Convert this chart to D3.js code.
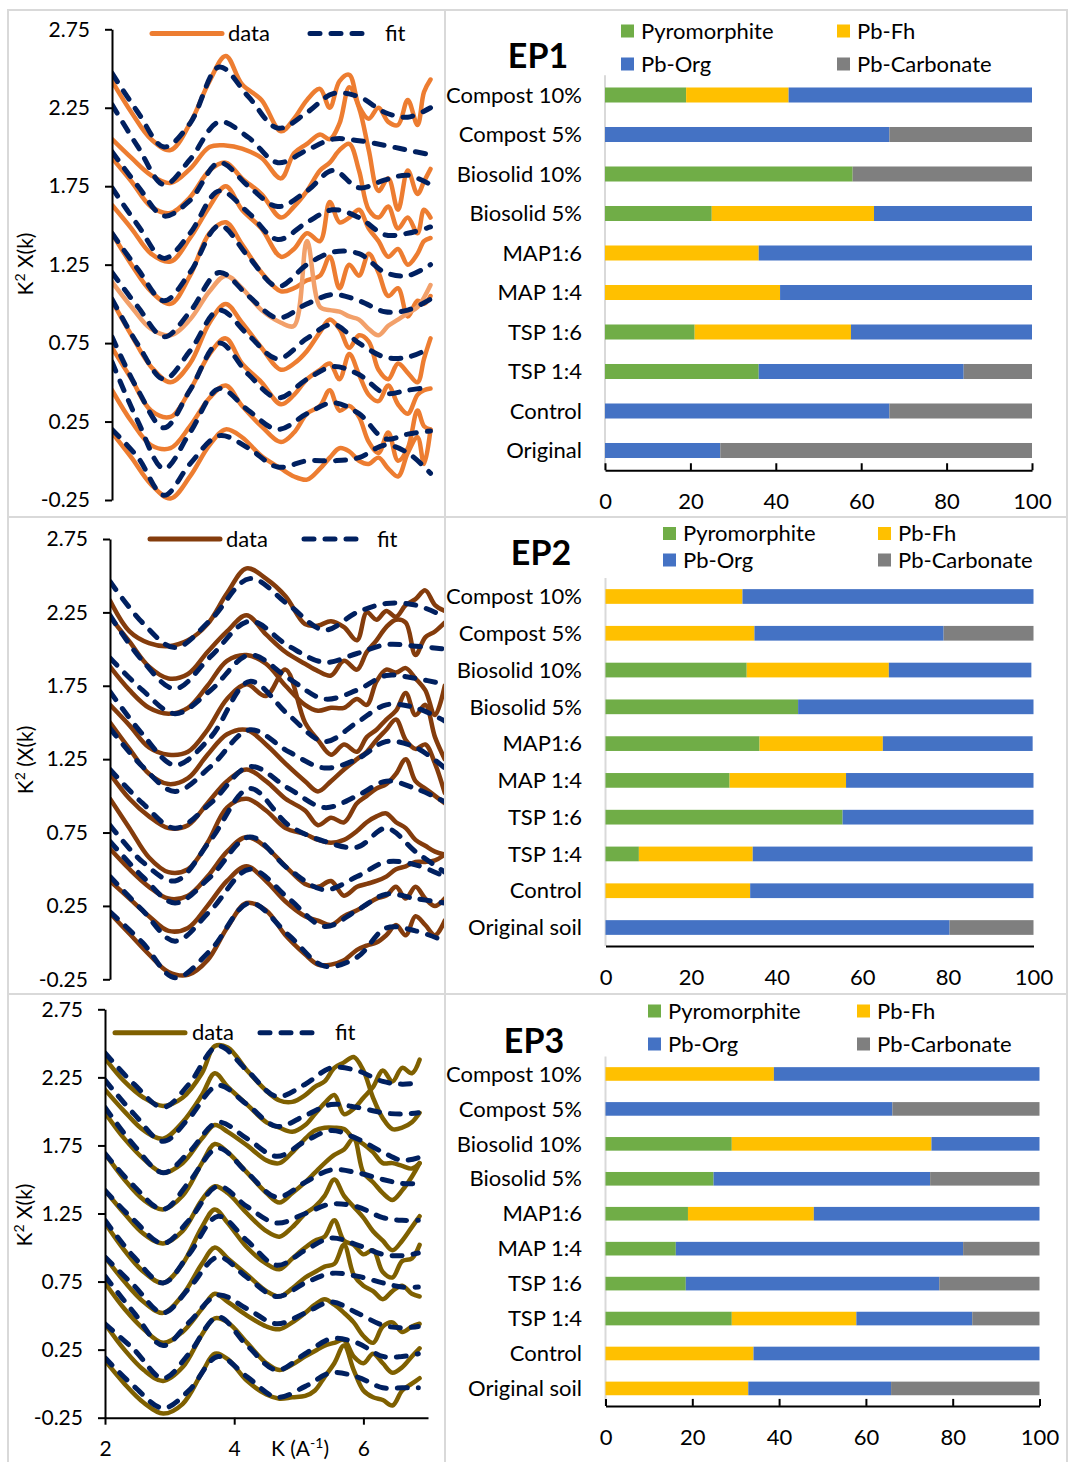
<!DOCTYPE html>
<html>
<head>
<meta charset="utf-8">
<script src="https://d3js.org/d3.v7.min.js"></script>
<style>
  body { margin: 0; background: #fff; }
  text { font-family: Lato, "Open Sans", sans-serif; fill: #000; }
</style>
</head>
<body>
<svg id="fig" width="1071" height="1462"></svg>
<script>
// ---------- speciation (linear combination fit) results, % ----------
const phases = ["Pyromorphite", "Pb-Fh", "Pb-Org", "Pb-Carbonate"];
const phaseColors = ["#70AD47", "#FFC000", "#4472C4", "#7F7F7F"];

const categoriesEP1 = ["Compost 10%", "Compost 5%", "Biosolid 10%", "Biosolid 5%", "MAP1:6", "MAP 1:4", "TSP 1:6", "TSP 1:4", "Control", "Original"];
const categoriesEP23 = ["Compost 10%", "Compost 5%", "Biosolid 10%", "Biosolid 5%", "MAP1:6", "MAP 1:4", "TSP 1:6", "TSP 1:4", "Control", "Original soil"];

const ep1Pyromorphite = [19, 0, 58, 25, 0, 0, 21, 36, 0, 0];
const ep1PbFh         = [24, 0, 0, 38, 36, 41, 36.6, 0, 0, 0];
const ep1PbOrg        = [57, 66.6, 0, 37, 64, 59, 42.4, 48, 66.6, 27];
const ep1PbCarbonate  = [0, 33.4, 42, 0, 0, 0, 0, 16, 33.4, 73];

const ep2Pyromorphite = [0, 0, 33, 45, 36, 29, 55.4, 7.8, 0, 0];
const ep2PbFh         = [32, 34.8, 33.2, 0, 28.8, 27.2, 0, 26.6, 33.8, 0];
const ep2PbOrg        = [68, 44.2, 33.3, 55, 35, 43.8, 44.6, 65.4, 66.2, 80.4];
const ep2PbCarbonate  = [0, 21, 0, 0, 0, 0, 0, 0, 0, 19.6];

const ep3Pyromorphite = [0, 0, 29.1, 24.9, 19, 16.2, 18.5, 29.1, 0, 0];
const ep3PbFh         = [38.8, 0, 46, 0, 29, 0, 0, 28.7, 34.1, 32.9];
const ep3PbOrg        = [61.2, 66.1, 24.9, 49.9, 52, 66.2, 58.4, 26.7, 65.9, 32.9];
const ep3PbCarbonate  = [0, 33.9, 0, 25.2, 0, 17.6, 23.1, 15.5, 0, 34.2];

const barTicks = [0, 20, 40, 60, 80, 100];

// ---------- k2-weighted EXAFS spectra (offset stacks) ----------
const spectraTicks = [-0.25, 0.25, 0.75, 1.25, 1.75, 2.25, 2.75];

const ep1FitK  = [2.0, 2.4, 2.8, 3.2, 3.65, 4.1, 4.55, 5.0, 5.4, 5.8, 6.2, 6.55, 6.9];
const ep1DataK = [2.0, 2.3, 2.6, 2.9, 3.2, 3.5, 3.75, 4.0, 4.3, 4.6, 4.8, 5.0, 5.2, 5.35, 5.5, 5.65, 5.8, 5.95, 6.1, 6.25, 6.4, 6.55, 6.7, 6.8, 6.9];
const ep1Fits = [
  [2.47, 2.22, 2.00, 2.15, 2.51, 2.32, 2.12, 2.22, 2.34, 2.32, 2.22, 2.19, 2.25],
  [2.27, 2.00, 1.76, 1.92, 2.16, 2.06, 1.90, 1.98, 2.05, 2.04, 2.01, 1.98, 1.95],
  [1.97, 1.75, 1.56, 1.66, 1.90, 1.75, 1.62, 1.72, 1.85, 1.74, 1.79, 1.82, 1.76],
  [1.74, 1.50, 1.29, 1.45, 1.72, 1.58, 1.41, 1.52, 1.60, 1.55, 1.44, 1.45, 1.49],
  [1.45, 1.22, 1.02, 1.20, 1.50, 1.30, 1.11, 1.25, 1.33, 1.32, 1.20, 1.18, 1.25],
  [1.20, 0.98, 0.79, 0.95, 1.20, 1.05, 0.91, 1.00, 1.06, 1.02, 0.95, 0.96, 1.03],
  [1.03, 0.74, 0.52, 0.70, 0.96, 0.80, 0.65, 0.78, 0.87, 0.75, 0.66, 0.66, 0.72],
  [0.79, 0.45, 0.21, 0.45, 0.75, 0.55, 0.40, 0.52, 0.60, 0.55, 0.43, 0.45, 0.47],
  [0.63, 0.25, -0.05, 0.18, 0.46, 0.32, 0.20, 0.30, 0.37, 0.30, 0.14, 0.17, 0.19],
  [0.20, 0.02, -0.22, -0.02, 0.16, 0.08, -0.04, 0.00, 0.00, 0.02, 0.10, 0.05, -0.08]
];
const ep1Data = [
  [2.42, 2.22, 2.05, 1.98, 2.15, 2.42, 2.58, 2.40, 2.30, 2.10, 2.18, 2.30, 2.37, 2.25, 2.42, 2.46, 2.26, 2.18, 2.25, 2.16, 2.14, 2.30, 2.14, 2.35, 2.43],
  [2.05, 1.93, 1.82, 1.77, 1.86, 2.00, 2.01, 1.99, 1.93, 1.80, 1.96, 2.02, 2.08, 2.05, 2.15, 2.38, 2.25, 1.98, 1.72, 1.80, 1.60, 1.85, 1.70, 1.78, 1.86],
  [1.93, 1.78, 1.62, 1.58, 1.68, 1.85, 1.90, 1.80, 1.70, 1.55, 1.62, 1.72, 1.85, 1.90, 1.98, 2.02, 1.85, 1.60, 1.55, 1.62, 1.48, 1.55, 1.45, 1.60, 1.55],
  [1.63, 1.48, 1.32, 1.27, 1.42, 1.62, 1.75, 1.60, 1.48, 1.30, 1.35, 1.45, 1.40, 1.65, 1.52, 1.55, 1.60, 1.48, 1.40, 1.30, 1.35, 1.25, 1.32, 1.40, 1.42],
  [1.45, 1.25, 1.08, 1.00, 1.18, 1.45, 1.52, 1.38, 1.20, 1.08, 1.10, 1.15, 1.18, 1.30, 1.10, 1.25, 1.18, 1.32, 1.20, 1.05, 1.10, 0.92, 1.02, 1.00, 1.05],
  [1.14, 0.98, 0.84, 0.80, 0.90, 1.08, 1.18, 1.10, 0.96, 0.88, 0.86, 1.40, 0.98, 0.96, 0.95, 0.92, 0.90, 0.84, 0.80, 0.86, 0.90, 0.94, 0.98, 1.04, 1.12],
  [1.02, 0.80, 0.60, 0.50, 0.62, 0.88, 1.00, 0.88, 0.72, 0.58, 0.62, 0.70, 0.82, 0.90, 0.84, 0.72, 0.80, 0.76, 0.58, 0.52, 0.62, 0.56, 0.50, 0.65, 0.78],
  [0.72, 0.52, 0.32, 0.28, 0.45, 0.68, 0.78, 0.62, 0.50, 0.36, 0.42, 0.52, 0.58, 0.62, 0.52, 0.68, 0.55, 0.42, 0.38, 0.48, 0.36, 0.30, 0.42, 0.45, 0.46],
  [0.45, 0.25, 0.10, 0.08, 0.22, 0.40, 0.48, 0.35, 0.22, 0.12, 0.18, 0.30, 0.35, 0.45, 0.32, 0.35, 0.28, 0.12, 0.05, 0.18, 0.00, 0.08, 0.32, 0.22, 0.20],
  [0.18, 0.02, -0.15, -0.24, -0.10, 0.10, 0.20, 0.15, 0.03, -0.05, -0.10, -0.12, -0.05, 0.02, 0.08, 0.06, 0.00, -0.02, 0.02, -0.05, -0.10, 0.05, 0.15, -0.02, 0.20]
];

const ep2FitK  = [2.0, 2.5, 3.0, 3.55, 4.15, 4.75, 5.3, 5.8, 6.25, 6.7, 7.15];
const ep2DataK = [2.0, 2.3, 2.6, 2.9, 3.2, 3.5, 3.8, 4.1, 4.4, 4.7, 5.0, 5.2, 5.4, 5.6, 5.8, 5.95, 6.1, 6.25, 6.4, 6.55, 6.7, 6.85, 7.0, 7.15];
const ep2Fits = [
  [2.46, 2.18, 2.01, 2.20, 2.48, 2.30, 2.13, 2.25, 2.31, 2.30, 2.22],
  [2.23, 1.92, 1.73, 1.95, 2.19, 2.02, 1.91, 1.97, 2.03, 2.02, 2.00],
  [1.94, 1.72, 1.56, 1.72, 1.96, 1.80, 1.66, 1.72, 1.82, 1.80, 1.76],
  [1.71, 1.42, 1.21, 1.40, 1.78, 1.55, 1.37, 1.50, 1.62, 1.60, 1.51],
  [1.46, 1.20, 1.03, 1.20, 1.45, 1.30, 1.19, 1.25, 1.37, 1.33, 1.19],
  [1.18, 0.95, 0.78, 0.95, 1.20, 1.05, 0.92, 1.00, 1.10, 1.05, 0.96],
  [0.80, 0.55, 0.42, 0.70, 1.05, 0.80, 0.69, 0.65, 0.78, 0.62, 0.48],
  [0.69, 0.45, 0.27, 0.45, 0.72, 0.50, 0.36, 0.45, 0.55, 0.53, 0.45],
  [0.45, 0.22, 0.01, 0.22, 0.50, 0.30, 0.11, 0.22, 0.33, 0.30, 0.27],
  [0.21, 0.00, -0.24, -0.05, 0.27, 0.05, -0.16, -0.10, 0.10, 0.08, 0.01]
];
const ep2Data = [
  [2.33, 2.12, 2.04, 2.02, 2.06, 2.17, 2.38, 2.55, 2.48, 2.36, 2.17, 2.16, 2.19, 2.15, 2.06, 2.25, 2.20, 2.26, 2.22, 2.30, 2.34, 2.40, 2.30, 2.26],
  [2.22, 2.05, 1.88, 1.80, 1.83, 1.98, 2.12, 2.23, 2.10, 1.98, 1.90, 1.85, 1.82, 1.92, 1.86, 1.98, 2.06, 2.15, 2.20, 2.18, 1.96, 2.08, 2.12, 2.18],
  [1.88, 1.72, 1.60, 1.56, 1.60, 1.75, 1.92, 1.96, 1.90, 1.75, 1.62, 1.58, 1.60, 1.60, 1.66, 1.62, 1.78, 1.86, 1.84, 1.87, 1.80, 1.72, 1.55, 1.75],
  [1.62, 1.48, 1.33, 1.28, 1.30, 1.45, 1.66, 1.76, 1.68, 1.86, 1.50, 1.38, 1.28, 1.35, 1.30, 1.40, 1.45, 1.52, 1.58, 1.70, 1.55, 1.62, 1.40, 1.25],
  [1.50, 1.32, 1.15, 1.08, 1.12, 1.28, 1.42, 1.45, 1.35, 1.22, 1.10, 1.03, 1.10, 1.18, 1.25, 1.30, 1.38, 1.45, 1.52, 1.38, 1.32, 1.35, 1.22, 1.02],
  [1.15, 0.98, 0.86, 0.78, 0.80, 0.95, 1.10, 1.18, 1.10, 0.98, 0.90, 0.80, 0.85, 0.82, 0.95, 1.00, 1.05, 1.08, 1.15, 1.25, 1.10, 1.05, 1.00, 0.95],
  [0.98, 0.78, 0.58, 0.48, 0.50, 0.68, 0.92, 0.98, 0.90, 0.78, 0.74, 0.70, 0.68, 0.70, 0.76, 0.82, 0.86, 0.88, 0.82, 0.78, 0.70, 0.66, 0.62, 0.60],
  [0.64, 0.50, 0.38, 0.30, 0.32, 0.45, 0.62, 0.72, 0.65, 0.52, 0.40, 0.38, 0.42, 0.32, 0.38, 0.40, 0.42, 0.45, 0.50, 0.52, 0.55, 0.55, 0.56, 0.60],
  [0.42, 0.30, 0.18, 0.08, 0.10, 0.25, 0.42, 0.52, 0.42, 0.28, 0.18, 0.15, 0.12, 0.18, 0.22, 0.26, 0.30, 0.32, 0.38, 0.30, 0.38, 0.30, 0.25, 0.30],
  [0.20, 0.06, -0.08, -0.20, -0.22, -0.12, 0.10, 0.27, 0.22, 0.05, -0.08, -0.15, -0.15, -0.12, -0.05, -0.02, 0.00, 0.05, 0.12, 0.05, 0.18, 0.12, 0.05, 0.15]
];

const ep3FitK  = [2.0, 2.45, 2.9, 3.3, 3.75, 4.2, 4.66, 5.1, 5.5, 5.9, 6.3, 6.6, 6.85];
const ep3DataK = [2.0, 2.3, 2.6, 2.9, 3.2, 3.5, 3.7, 3.9, 4.2, 4.5, 4.7, 4.9, 5.1, 5.25, 5.4, 5.55, 5.7, 5.85, 6.0, 6.15, 6.3, 6.45, 6.6, 6.75, 6.87];
const ep3Fits = [
  [2.43, 2.20, 2.03, 2.20, 2.48, 2.30, 2.11, 2.20, 2.32, 2.30, 2.22, 2.20, 2.21],
  [2.23, 1.98, 1.78, 1.95, 2.19, 2.05, 1.89, 1.97, 2.05, 2.03, 1.99, 1.98, 1.99],
  [2.03, 1.75, 1.55, 1.70, 1.92, 1.80, 1.67, 1.78, 1.86, 1.80, 1.70, 1.64, 1.66],
  [1.69, 1.45, 1.28, 1.48, 1.73, 1.55, 1.37, 1.48, 1.57, 1.55, 1.50, 1.47, 1.47],
  [1.42, 1.20, 1.03, 1.20, 1.45, 1.30, 1.18, 1.25, 1.32, 1.30, 1.22, 1.20, 1.20],
  [1.20, 0.93, 0.74, 0.95, 1.23, 1.05, 0.87, 0.98, 1.07, 1.02, 0.95, 0.94, 0.96],
  [0.93, 0.72, 0.52, 0.70, 0.93, 0.78, 0.64, 0.74, 0.81, 0.79, 0.74, 0.71, 0.71],
  [0.79, 0.52, 0.28, 0.45, 0.65, 0.55, 0.44, 0.52, 0.60, 0.52, 0.43, 0.41, 0.42],
  [0.44, 0.25, 0.04, 0.22, 0.49, 0.28, 0.10, 0.22, 0.33, 0.30, 0.20, 0.20, 0.22],
  [0.19, -0.02, -0.18, -0.05, 0.20, 0.05, -0.10, -0.02, 0.08, 0.05, -0.03, -0.03, -0.03]
];
const ep3Data = [
  [2.39, 2.22, 2.10, 2.04, 2.10, 2.28, 2.48, 2.47, 2.30, 2.15, 2.08, 2.07, 2.12, 2.18, 2.22, 2.32, 2.36, 2.40, 2.30, 2.10, 1.95, 1.87, 1.88, 1.92, 1.99],
  [2.16, 2.00, 1.86, 1.80, 1.92, 2.12, 2.28, 2.18, 2.05, 1.92, 1.88, 1.85, 1.90, 1.98, 2.06, 2.12, 1.98, 2.02, 2.10, 2.18, 2.30, 2.22, 2.32, 2.28, 2.38],
  [1.99, 1.80, 1.65, 1.55, 1.62, 1.80, 1.90, 1.85, 1.75, 1.64, 1.62, 1.70, 1.80, 1.86, 1.88, 1.88, 1.87, 1.80, 1.76, 1.70, 1.62, 1.62, 1.60, 1.58, 1.62],
  [1.69, 1.50, 1.35, 1.28, 1.38, 1.62, 1.76, 1.70, 1.55, 1.40, 1.33, 1.40, 1.48, 1.55, 1.62, 1.68, 1.72, 1.80, 1.55, 1.48, 1.40, 1.35, 1.42, 1.52, 1.62],
  [1.42, 1.25, 1.10, 1.03, 1.12, 1.35, 1.45, 1.40, 1.25, 1.12, 1.08, 1.15, 1.25, 1.30, 1.38, 1.50, 1.38, 1.30, 1.22, 1.12, 1.05, 0.98, 1.05, 1.15, 1.23],
  [1.18, 0.98, 0.82, 0.74, 0.88, 1.15, 1.28, 1.18, 1.00, 0.88, 0.84, 0.92, 1.00, 1.05, 1.08, 1.20, 1.05, 1.02, 0.95, 0.98, 0.82, 0.78, 0.90, 0.92, 1.02],
  [0.93, 0.75, 0.60, 0.52, 0.65, 0.88, 1.00, 0.92, 0.80, 0.68, 0.64, 0.70, 0.78, 0.82, 0.86, 0.88, 1.02, 0.80, 0.72, 0.68, 0.62, 0.68, 0.72, 0.66, 0.64],
  [0.74, 0.55, 0.40, 0.30, 0.38, 0.55, 0.66, 0.60, 0.50, 0.42, 0.40, 0.45, 0.52, 0.58, 0.62, 0.58, 0.52, 0.45, 0.35, 0.30, 0.42, 0.45, 0.38, 0.42, 0.44],
  [0.44, 0.25, 0.10, 0.02, 0.12, 0.36, 0.48, 0.45, 0.30, 0.15, 0.10, 0.14, 0.20, 0.24, 0.28, 0.30, 0.32, 0.20, 0.15, 0.22, 0.15, 0.08, 0.12, 0.20, 0.26],
  [0.17, 0.00, -0.14, -0.22, -0.15, 0.08, 0.22, 0.18, 0.02, -0.08, -0.11, -0.10, -0.09, -0.05, 0.05, 0.15, 0.28, 0.10, -0.05, -0.10, -0.12, -0.16, -0.05, 0.00, 0.04]
];

// ---------- drawing ----------
const svg = d3.select("#fig");
const FIT_COLOR = "#002060";
const FIT_DASH = "10,11";
const TICK_SIZE = 21;
const LABEL_SIZE = 22;

// panel frame (light table grid)
const frame = svg.append("g").attr("stroke", "#D9D9D9").attr("stroke-width", 2).attr("fill", "none");
frame.append("rect").attr("x", 8).attr("y", 10).attr("width", 1059).attr("height", 1460);
frame.append("line").attr("x1", 445).attr("x2", 445).attr("y1", 10).attr("y2", 1462);
[517, 994].forEach(yy => frame.append("line").attr("x1", 8).attr("x2", 1067).attr("y1", yy).attr("y2", yy));

function styleAxis(g) {
  g.selectAll(".domain").attr("stroke", "#000").attr("stroke-width", 2);
  g.selectAll(".tick line").attr("stroke", "#000").attr("stroke-width", 2);
  g.selectAll(".tick text").attr("font-size", TICK_SIZE).attr("font-family", null).attr("fill", "#000");
  g.attr("font-family", null);
}

function drawSpectra(o) {
  const x = d3.scaleLinear().domain(o.kDomain).range(o.xRange);
  const y = d3.scaleLinear().domain([-0.25, 2.75]).range(o.yRange);
  const g = svg.append("g");

  const clipId = "clip-" + o.id;
  svg.append("clipPath").attr("id", clipId).append("rect")
    .attr("x", o.xRange[0]).attr("y", o.clipTop)
    .attr("width", o.clipRight - o.xRange[0]).attr("height", o.clipBottom - o.clipTop);

  const plot = g.append("g").attr("clip-path", `url(#${clipId})`);
  const line = d3.line().x(d => x(d[0])).y(d => y(d[1])).curve(d3.curveCatmullRom.alpha(0.5));

  plot.selectAll("path.data").data(o.data).join("path")
    .attr("class", "data")
    .attr("d", vals => line(vals.map((v, i) => [o.dataK[i], v])))
    .attr("fill", "none")
    .attr("stroke", (d, i) => (o.lightIndex === i ? o.lightColor : o.color))
    .attr("stroke-width", 4.5)
    .attr("stroke-linejoin", "round").attr("stroke-linecap", "round");

  plot.selectAll("path.fit").data(o.fits).join("path")
    .attr("class", "fit")
    .attr("d", vals => line(vals.map((v, i) => [o.fitK[i], v])))
    .attr("fill", "none")
    .attr("stroke", FIT_COLOR)
    .attr("stroke-width", 5)
    .attr("stroke-dasharray", FIT_DASH)
    .attr("stroke-linecap", "round");

  // y axis
  const ya = g.append("g").attr("transform", `translate(${o.xRange[0]},0)`)
    .call(d3.axisLeft(y).tickValues(spectraTicks).tickFormat(d => d.toFixed(2))
      .tickSize(7).tickSizeOuter(0).tickPadding(15));
  styleAxis(ya);

  // x axis (bottom panel only)
  if (o.xTicks) {
    const xa = g.append("g").attr("transform", `translate(0,${o.yRange[0]})`)
      .call(d3.axisBottom(x).tickValues(o.xTicks).tickFormat(d3.format("d"))
        .tickSize(7).tickSizeOuter(0).tickPadding(16));
    styleAxis(xa);
    const xt = g.append("text").attr("x", o.xTitleX).attr("y", o.xTitleY)
      .attr("text-anchor", "middle").attr("font-size", TICK_SIZE);
    xt.append("tspan").text("K (A");
    xt.append("tspan").attr("font-size", 14).attr("dy", -8).text("-1");
    xt.append("tspan").attr("dy", 8).text(")");
  }

  // y title
  const yt = g.append("text")
    .attr("transform", `translate(${o.yTitleX},${o.yTitleY}) rotate(-90)`)
    .attr("text-anchor", "middle").attr("font-size", TICK_SIZE);
  yt.append("tspan").text("K");
  yt.append("tspan").attr("font-size", 14).attr("dy", -8).text("2");
  yt.append("tspan").attr("dy", 8).text(o.yTitleRest);

  // legend
  const lg = g.append("g");
  lg.append("line").attr("x1", o.legend.dataX[0]).attr("x2", o.legend.dataX[1])
    .attr("y1", o.legend.y).attr("y2", o.legend.y)
    .attr("stroke", o.color).attr("stroke-width", 5).attr("stroke-linecap", "round");
  lg.append("text").attr("x", o.legend.dataTextX).attr("y", o.legend.y).attr("dy", "0.35em")
    .attr("font-size", LABEL_SIZE).text("data");
  lg.append("line").attr("x1", o.legend.fitX[0]).attr("x2", o.legend.fitX[1])
    .attr("y1", o.legend.y).attr("y2", o.legend.y)
    .attr("stroke", FIT_COLOR).attr("stroke-width", 5)
    .attr("stroke-dasharray", FIT_DASH).attr("stroke-linecap", "round");
  lg.append("text").attr("x", o.legend.fitTextX).attr("y", o.legend.y).attr("dy", "0.35em")
    .attr("font-size", LABEL_SIZE).text("fit");
}

function drawBars(o) {
  const x = d3.scaleLinear().domain([0, 100]).range(o.xRange);
  const y = d3.scaleBand().domain(o.categories).range(o.yRange)
    .paddingInner(o.pad).paddingOuter(o.pad / 2);
  const g = svg.append("g");

  const rows = o.categories.map((c, i) => {
    const r = { category: c };
    phases.forEach((p, j) => { r[p] = o.values[j][i]; });
    return r;
  });
  const series = d3.stack().keys(phases)(rows);

  // light vertical category axis
  g.append("line").attr("x1", x(0)).attr("x2", x(0))
    .attr("y1", o.yRange[0]).attr("y2", o.yRange[1])
    .attr("stroke", "#D9D9D9").attr("stroke-width", 2);

  g.selectAll("g.series").data(series).join("g")
    .attr("fill", (d, i) => phaseColors[i])
    .selectAll("rect").data(d => d).join("rect")
    .attr("x", d => x(d[0]))
    .attr("width", d => Math.max(0, x(d[1]) - x(d[0])))
    .attr("y", d => y(d.data.category))
    .attr("height", y.bandwidth());

  // category labels
  g.selectAll("text.cat").data(o.categories).join("text")
    .attr("class", "cat")
    .attr("x", o.labelX).attr("y", d => y(d) + y.bandwidth() / 2).attr("dy", "0.35em")
    .attr("text-anchor", "end").attr("font-size", LABEL_SIZE).text(d => d);

  // value axis
  const xa = g.append("g").attr("transform", `translate(0,${o.yRange[1]})`)
    .call(d3.axisBottom(x).tickValues(barTicks)
      .tickSize(o.innerTicks ? -7 : 0).tickSizeOuter(0).tickPadding(23));
  styleAxis(xa);
  xa.selectAll(".tick text").attr("font-size", LABEL_SIZE);

  // title
  g.append("text").attr("x", o.titleX).attr("y", o.titleY).attr("text-anchor", "middle")
    .attr("font-size", 34).attr("font-weight", 700).text(o.title);

  // legend (2 x 2)
  phases.forEach((p, i) => {
    const lx = o.legendX[i % 2];
    const ly = o.legendY[Math.floor(i / 2)];
    g.append("rect").attr("x", lx).attr("y", ly - 6.5).attr("width", 13).attr("height", 13)
      .attr("fill", phaseColors[i]);
    g.append("text").attr("x", lx + 20).attr("y", ly).attr("dy", "0.35em")
      .attr("font-size", LABEL_SIZE).text(p);
  });
}

// ----- EP1 -----
drawSpectra({
  id: "ep1", kDomain: [2, 7], xRange: [112, 437], yRange: [500, 29.3],
  clipTop: 12, clipBottom: 515, clipRight: 444,
  fitK: ep1FitK, fits: ep1Fits, dataK: ep1DataK, data: ep1Data,
  color: "#ED7D31", lightColor: "#F2A06A", lightIndex: 5,
  yTitleX: 33, yTitleY: 264, yTitleRest: " X(k)",
  legend: { y: 33.5, dataX: [152, 222], dataTextX: 228, fitX: [310, 364], fitTextX: 385 }
});
drawBars({
  title: "EP1", titleX: 538, titleY: 68,
  categories: categoriesEP1,
  values: [ep1Pyromorphite, ep1PbFh, ep1PbOrg, ep1PbCarbonate],
  xRange: [605, 1032], yRange: [75.25, 470.25], pad: 0.62, labelX: 582, innerTicks: true,
  legendX: [621, 837], legendY: [31, 64]
});

// ----- EP2 -----
drawSpectra({
  id: "ep2", kDomain: [2, 7.15], xRange: [110, 444.75], yRange: [979.3, 539],
  clipTop: 519, clipBottom: 992, clipRight: 444,
  fitK: ep2FitK, fits: ep2Fits, dataK: ep2DataK, data: ep2Data,
  color: "#843C0C",
  yTitleX: 33, yTitleY: 760, yTitleRest: " (X(k)",
  legend: { y: 539, dataX: [150, 220], dataTextX: 226, fitX: [304, 362], fitTextX: 377 }
});
drawBars({
  title: "EP2", titleX: 541, titleY: 565,
  categories: categoriesEP23,
  values: [ep2Pyromorphite, ep2PbFh, ep2PbOrg, ep2PbCarbonate],
  xRange: [605.5, 1033.5], yRange: [578.1, 945.9], pad: 0.6, labelX: 582, innerTicks: false,
  legendX: [663, 878], legendY: [533.5, 560]
});

// ----- EP3 -----
drawSpectra({
  id: "ep3", kDomain: [2, 7], xRange: [105, 428], yRange: [1417.7, 1009.3],
  clipTop: 996, clipBottom: 1417.7, clipRight: 444,
  fitK: ep3FitK, fits: ep3Fits, dataK: ep3DataK, data: ep3Data,
  color: "#7F6000",
  xTicks: [2, 4, 6], xTitleX: 300, xTitleY: 1456,
  yTitleX: 32, yTitleY: 1215, yTitleRest: " X(k)",
  legend: { y: 1032.7, dataX: [115, 185], dataTextX: 192, fitX: [260, 321], fitTextX: 335 }
});
drawBars({
  title: "EP3", titleX: 534, titleY: 1053,
  categories: categoriesEP23,
  values: [ep3Pyromorphite, ep3PbFh, ep3PbOrg, ep3PbCarbonate],
  xRange: [605.5, 1039.5], yRange: [1056.5, 1405.9], pad: 0.61, labelX: 582, innerTicks: true,
  legendX: [648, 857], legendY: [1011, 1044]
});
</script>
</body>
</html>
